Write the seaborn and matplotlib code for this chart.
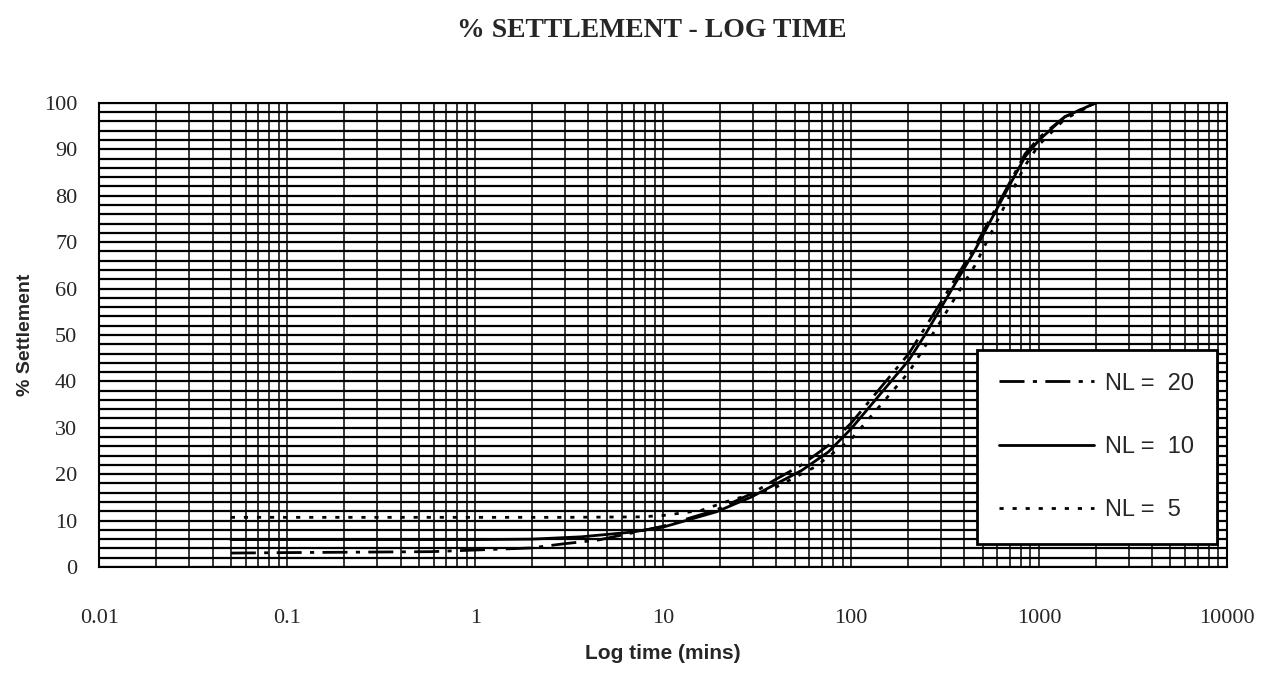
import numpy as np
import pandas as pd
import matplotlib
matplotlib.use("Agg")
import matplotlib.pyplot as plt
import seaborn as sns
from matplotlib.ticker import FixedLocator, NullFormatter

# ---- data ----
t_nl20 = [0.05, 0.1, 0.58, 1.98, 2.96, 4.5, 6.75, 10, 19.2, 29.5, 39, 54.5, 75.7, 100, 203, 300, 456, 650, 842, 1000, 1370, 2000]
s_nl20 = [3.0, 3.1, 3.3, 4.1, 5.0, 5.8, 7.3, 8.8, 12.3, 15.8, 18.7, 22.0, 26.2, 31.0, 46.0, 57.0, 69.0, 80.5, 89.0, 92.5, 97.0, 100.0]

t_nl10 = [0.05, 0.1, 0.5, 1, 2, 3.66, 6.75, 10, 19.2, 29.5, 39, 54.5, 75.7, 100, 203, 247, 456, 650, 842, 1000, 1370, 2000]
s_nl10 = [5.9, 5.9, 5.9, 5.9, 6.0, 6.5, 7.5, 8.6, 11.9, 15.1, 17.7, 20.8, 24.8, 29.8, 44.6, 50.0, 68.3, 80.0, 88.4, 92.0, 97.0, 100.0]

t_nl5 = [0.05, 0.1, 0.5, 1, 3, 7.6, 10, 15.9, 22.9, 39, 63.8, 100, 203, 300, 456, 650, 842, 1000, 1370, 2000]
s_nl5 = [10.7, 10.7, 10.7, 10.7, 10.7, 10.8, 11.1, 12.2, 14.4, 17.0, 21.5, 27.5, 42.0, 53.0, 65.0, 77.5, 86.5, 91.0, 96.5, 100.0]

series_labels = ["NL =  20", "NL =  10", "NL =  5"]
x_ticks = [0.01, 0.1, 1, 10, 100, 1000, 10000]
x_tick_labels = ["0.01", "0.1", "1", "10", "100", "1000", "10000"]
y_ticks = list(range(0, 101, 10))

df = pd.concat([
    pd.DataFrame({"t": t_nl20, "s": s_nl20, "series": series_labels[0]}),
    pd.DataFrame({"t": t_nl10, "s": s_nl10, "series": series_labels[1]}),
    pd.DataFrame({"t": t_nl5, "s": s_nl5, "series": series_labels[2]}),
])

sns.set_style("white")
plt.rcParams["font.family"] = ["Liberation Serif", "DejaVu Serif"]

fig = plt.figure(figsize=(12.82, 6.77), dpi=100)
ax = fig.add_axes([0.0776, 0.1625, 0.8795, 0.6855])

styles = {
    series_labels[0]: (0, (9, 3, 1.5, 3)),
    series_labels[1]: "-",
    series_labels[2]: (0, (1.5, 3.2)),
}
for lab in series_labels:
    sub = df[df["series"] == lab]
    sns.lineplot(data=sub, x="t", y="s", ax=ax, color="black", linewidth=2.0,
                 linestyle=styles[lab], label=lab, sort=False, estimator=None)

ax.set_xscale("log")
ax.set_xlim(0.01, 10000)
ax.set_ylim(0, 100)

# grid: log minor verticals, horizontal every 2 %
ax.xaxis.set_major_locator(FixedLocator(x_ticks))
minor = [m * 10.0 ** k for k in range(-2, 4) for m in range(2, 10)]
ax.xaxis.set_minor_locator(FixedLocator(minor))
ax.xaxis.set_minor_formatter(NullFormatter())
ax.set_xticklabels(x_tick_labels)
ax.set_yticks(y_ticks)
ax.set_yticks(list(range(0, 101, 2)), minor=True)
ax.grid(True, which="both", axis="x", color="black", linewidth=1.1)
ax.grid(True, which="both", axis="y", color="black", linewidth=1.6)
ax.set_axisbelow(True)
ax.tick_params(axis="both", which="both", length=0)
ax.tick_params(axis="x", pad=30, labelsize=16)
ax.tick_params(axis="y", pad=16, labelsize=16)
for sp in ax.spines.values():
    sp.set_color("black")
    sp.set_linewidth(1.5)

ax.set_xlabel("Log time (mins)", fontsize=15, fontweight="bold",
              family=["Liberation Sans", "DejaVu Sans"], labelpad=12)
ax.set_ylabel("% Settlement", fontsize=14, fontweight="bold",
              family=["Liberation Sans", "DejaVu Sans"], labelpad=7)

fig.text(0.508, 0.955, "% SETTLEMENT - LOG TIME", ha="center", va="center",
         fontsize=20, fontweight="bold", family=["Liberation Serif", "DejaVu Serif"])

leg = ax.legend(loc="lower right", bbox_to_anchor=(0.991, 0.05), borderaxespad=0,
                frameon=True, fancybox=False, framealpha=1, edgecolor="black",
                handlelength=4.0, labelspacing=1.75, borderpad=0.95, handletextpad=0.5,
                prop={"family": ["Liberation Sans", "DejaVu Sans"], "size": 17})
leg.get_frame().set_linewidth(2.0)

fig.savefig("out.png", dpi=100, facecolor="white")
